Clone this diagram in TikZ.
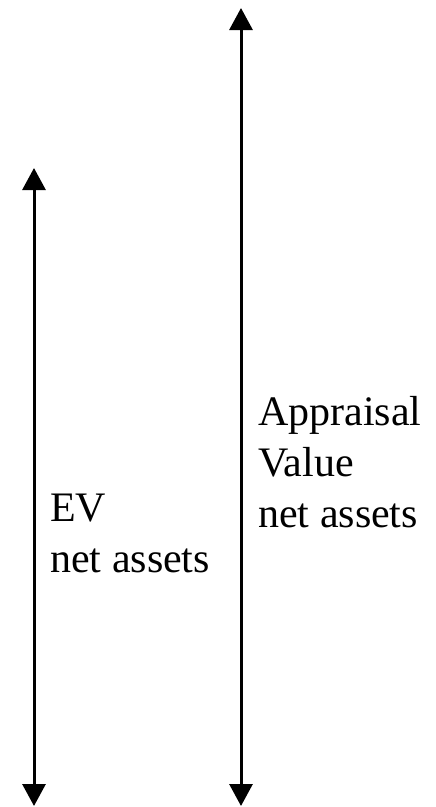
\documentclass[tikz,border=0pt]{standalone}
\usepackage{fontspec}
\setmainfont{Liberation Serif}
\usetikzlibrary{arrows.meta}
\usetikzlibrary{positioning}

\begin{document}
\begin{tikzpicture}[x=1pt, y=1pt, every node/.style={align=left, inner sep=0pt, anchor=base west, font=\fontsize{42}{51}\selectfont}, span/.style={line width=3pt, {Triangle[width=23pt,length=22pt]}-{Triangle[width=23pt,length=22pt]}}]
    \useasboundingbox (0,0) rectangle (436,-807);
    \coordinate (evtop) at (34,-168);
    \coordinate (evbot) at (34,-806);
    \coordinate (avtop) at (241,-8);
    \coordinate (avbot) at (241,-806);
    
    \draw[span] (evtop) -- (evbot);
    \draw[span] (avtop) -- (avbot);
    
    % base anchor sits on the last line
    \node (ev) at (50,-572) {EV\\net assets};
    \node (av) at (258,-527) {Appraisal\\Value\\net assets};
\end{tikzpicture}
\end{document}
